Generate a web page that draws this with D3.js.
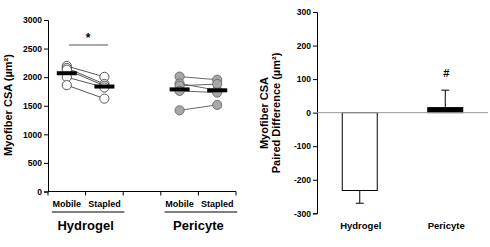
<!DOCTYPE html>
<html>
<head>
<meta charset="utf-8">
<script src="https://cdn.jsdelivr.net/npm/d3@7"></script>
<style>
  body { margin: 0; background: #fff; }
  svg { display: block; font-family: Arial, "Liberation Sans", sans-serif; font-weight: bold; }
</style>
</head>
<body>
<svg width="490" height="247"></svg>
<script>
// values
const groups = ['Hydrogel', 'Pericyte'];
const conditions = ['Mobile', 'Stapled'];
const hydrogelMobile = [2195, 2160, 2130, 2000, 1860];
const hydrogelStapled = [2005, 1880, 1850, 1820, 1625];
const pericyteMobile = [2010, 1890, 1850, 1760, 1420];
const pericyteStapled = [1955, 1770, 1880, 1730, 1515];
const leftTicks = [0, 500, 1000, 1500, 2000, 2500, 3000];

const diffMeans = [-232, 15];
const diffErr = [38, 52];
const rightTicks = [-300, -200, -100, 0, 100, 200, 300];

const svg = d3.select('svg');
const plain = d => String(d);

// ---------- left panel ----------
const slots = ['HM', 'HS', 'gap', 'PM', 'PS'];
const x1 = d3.scalePoint().domain(slots).range([48, 236]).padding(0.5);
const y1 = d3.scaleLinear().domain([0, 3000]).range([191.5, 20]);
const step = x1.step();

const left = svg.append('g');

left.append('g')
  .attr('transform', 'translate(48,0)')
  .call(d3.axisLeft(y1).tickValues(leftTicks).tickFormat(plain).tickSize(4).tickPadding(2))
  .call(g => g.selectAll('text').style('font-size', '8.5px').style('font-weight', 'bold').attr('fill', '#000'))
  .call(g => g.select('.domain').attr('stroke', '#000'))
  .call(g => g.attr('font-family', null));

// x axis with ticks at slot boundaries
const xa = left.append('g');
xa.append('line').attr('x1', 48).attr('x2', 236).attr('y1', y1(0)).attr('y2', y1(0)).attr('stroke', '#000');
xa.selectAll('.xt').data(slots.map(s => x1(s) - step / 2).concat([x1('PS') + step / 2]))
  .enter().append('line')
  .attr('x1', d => d).attr('x2', d => d)
  .attr('y1', y1(0)).attr('y2', y1(0) + 4)
  .attr('stroke', '#000');

const sets = [
  { a: hydrogelMobile, b: hydrogelStapled, sa: 'HM', sb: 'HS', fill: '#fff', stroke: '#444', lineCol: '#444' },
  { a: pericyteMobile, b: pericyteStapled, sa: 'PM', sb: 'PS', fill: '#a8a8a8', stroke: '#666', lineCol: '#555' }
];

sets.forEach(s => {
  const g = left.append('g');
  g.selectAll('line.pair').data(d3.range(s.a.length)).enter().append('line')
    .attr('x1', x1(s.sa)).attr('x2', x1(s.sb))
    .attr('y1', i => y1(s.a[i])).attr('y2', i => y1(s.b[i]))
    .attr('stroke', s.lineCol).attr('stroke-width', 0.9);
  [[s.a, s.sa], [s.b, s.sb]].forEach(([vals, slot]) => {
    g.selectAll(null).data(vals).enter().append('circle')
      .attr('cx', x1(slot)).attr('cy', d => y1(d)).attr('r', 4.6)
      .attr('fill', s.fill).attr('stroke', s.stroke).attr('stroke-width', 0.9);
  });
  [[s.a, s.sa], [s.b, s.sb]].forEach(([vals, slot]) => {
    g.append('rect')
      .attr('x', x1(slot) - 10).attr('width', 20)
      .attr('y', y1(d3.mean(vals)) - 2).attr('height', 4)
      .attr('fill', '#000');
  });
});

// condition labels
['HM', 'HS', 'PM', 'PS'].forEach((s, i) => {
  left.append('text').attr('x', x1(s)).attr('y', 207)
    .attr('text-anchor', 'middle').style('font-size', '9px')
    .text(conditions[i % 2]);
});
// group underline + labels
groups.forEach((gname, i) => {
  const a = x1(i === 0 ? 'HM' : 'PM'), b = x1(i === 0 ? 'HS' : 'PS');
  left.append('line').attr('x1', a - 15).attr('x2', b + 20).attr('y1', 212).attr('y2', 212).attr('stroke', '#000');
  left.append('text').attr('x', (a + b) / 2).attr('y', 230)
    .attr('text-anchor', 'middle').style('font-size', '13px').text(gname);
});

// significance
left.append('line').attr('x1', 69).attr('x2', 108).attr('y1', 45).attr('y2', 45).attr('stroke', '#555');
left.append('text').attr('x', 88).attr('y', 42).attr('text-anchor', 'middle').style('font-size', '12px').text('*');

left.append('text')
  .attr('transform', 'translate(12,105) rotate(-90)')
  .attr('text-anchor', 'middle').style('font-size', '11px')
  .text('Myofiber CSA (µm²)');

// ---------- right panel ----------
const x2 = d3.scalePoint().domain(groups).range([317, 488]).padding(0.5);
const y2 = d3.scaleLinear().domain([-300, 300]).range([213.3, 12]);
const barW = 35;

const right = svg.append('g');

right.append('g')
  .attr('transform', 'translate(317,0)')
  .call(d3.axisLeft(y2).tickValues(rightTicks).tickFormat(plain).tickSize(4).tickPadding(2))
  .call(g => g.selectAll('text').style('font-size', '8.5px').style('font-weight', 'bold').attr('fill', '#000'))
  .call(g => g.select('.domain').attr('stroke', '#000'))
  .call(g => g.attr('font-family', null));

const fills = ['#fff', '#000'];

// error bars (one-sided, away from zero)
right.selectAll('.err').data(groups).enter().append('g').each(function (d, i) {
  const g = d3.select(this);
  const m = diffMeans[i];
  const end = m < 0 ? m - diffErr[i] : m + diffErr[i];
  g.append('line').attr('x1', x2(d)).attr('x2', x2(d)).attr('y1', y2(m)).attr('y2', y2(end)).attr('stroke', '#000');
  g.append('line').attr('x1', x2(d) - 4).attr('x2', x2(d) + 4).attr('y1', y2(end)).attr('y2', y2(end)).attr('stroke', '#000');
});

right.selectAll('.bar').data(groups).enter().append('rect')
  .attr('x', d => x2(d) - barW / 2).attr('width', barW)
  .attr('y', (d, i) => y2(Math.max(0, diffMeans[i])))
  .attr('height', (d, i) => Math.abs(y2(diffMeans[i]) - y2(0)))
  .attr('fill', (d, i) => fills[i]).attr('stroke', '#000').attr('stroke-width', 1);

// zero line
right.append('line').attr('x1', 317).attr('x2', 488).attr('y1', y2(0)).attr('y2', y2(0)).attr('stroke', '#999');

right.append('text').attr('x', x2('Pericyte') + 1).attr('y', 77)
  .attr('text-anchor', 'middle').style('font-size', '11px').text('#');

right.selectAll('.cat').data(groups).enter().append('text')
  .attr('x', d => x2(d) + 1).attr('y', 229)
  .attr('text-anchor', 'middle').style('font-size', '9.5px').text(d => d);

const rt = right.append('text')
  .attr('transform', 'translate(268,113) rotate(-90)')
  .attr('text-anchor', 'middle').style('font-size', '11px');
rt.append('tspan').attr('x', 0).attr('dy', 0).text('Myofiber CSA');
rt.append('tspan').attr('x', 0).attr('dy', 12).text('Paired Difference (µm²)');
</script>
</body>
</html>
